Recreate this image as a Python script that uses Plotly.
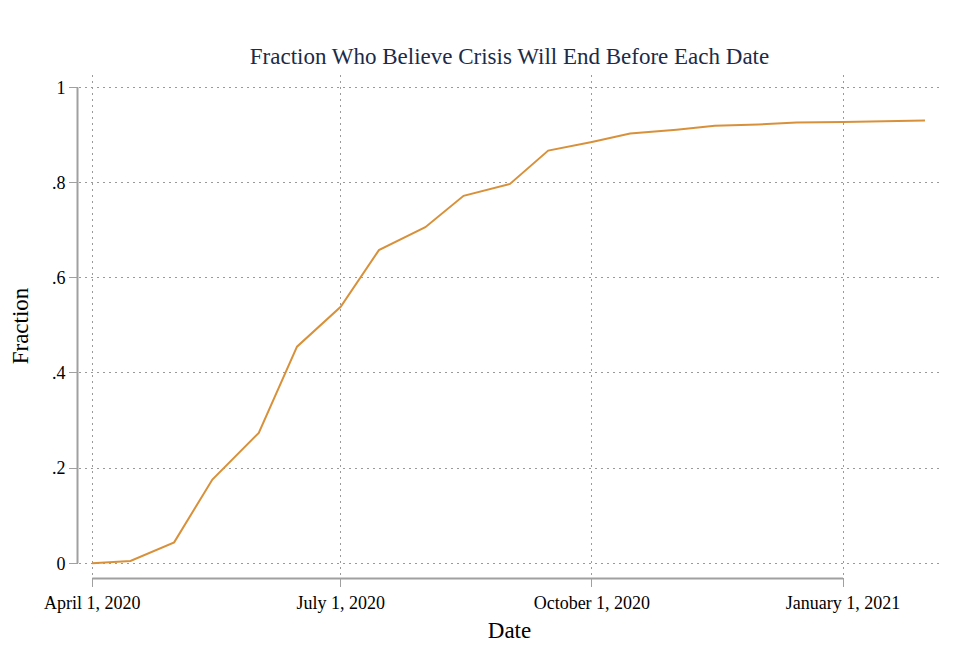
import plotly.graph_objects as go

# Data
dates = ["2020-04-01", "2020-04-15", "2020-05-01", "2020-05-15", "2020-06-01",
         "2020-06-15", "2020-07-01", "2020-07-15", "2020-08-01", "2020-08-15",
         "2020-09-01", "2020-09-15", "2020-10-01", "2020-10-15", "2020-11-01",
         "2020-11-15", "2020-12-01", "2020-12-15", "2021-01-01", "2021-01-15",
         "2021-01-31"]
fraction = [0.000, 0.005, 0.044, 0.176, 0.274, 0.455, 0.539, 0.658, 0.706, 0.772,
            0.797, 0.867, 0.885, 0.903, 0.911, 0.919, 0.922, 0.926, 0.927, 0.928,
            0.930]

x_tick_vals = ["2020-04-01", "2020-07-01", "2020-10-01", "2021-01-01"]
x_tick_text = ["April 1, 2020", "July 1, 2020", "October 1, 2020", "January 1, 2021"]
y_tick_vals = [0, 0.2, 0.4, 0.6, 0.8, 1.0]
y_tick_text = ["0", ".2", ".4", ".6", ".8", "1"]

FONT = "Liberation Serif, Times New Roman, serif"
GRID = "#9a9a9a"
AXIS = "#a0a0a0"

W, H = 953, 643  # page body adds an 8px margin

fig = go.Figure()
fig.add_trace(go.Scatter(
    x=dates, y=fraction, mode="lines",
    line=dict(color="#d8913a", width=2),
    hoverinfo="x+y", showlegend=False,
))

fig.update_layout(
    width=W, height=H,
    margin=dict(l=67, r=21, t=67, b=74),
    paper_bgcolor="white", plot_bgcolor="white",
    font=dict(family=FONT, color="black", size=18),
    title=dict(text="Fraction Who Believe Crisis Will End Before Each Date",
               font=dict(family=FONT, size=23, color="#1c2b48"),
               x=0.5, xanchor="center", xref="paper",
               y=1 - 48 / H, yanchor="middle", yref="container"),
    xaxis=dict(
        type="date",
        range=["2020-03-27 03:40", "2021-02-05 12:00"],
        tickmode="array", tickvals=x_tick_vals, ticktext=x_tick_text,
        ticks="outside", ticklen=9, tickwidth=1, tickcolor=AXIS,
        showgrid=True, gridcolor=GRID, gridwidth=1, griddash="2px,4px",
        showline=False, zeroline=False,
        tickfont=dict(family=FONT, size=18, color="black"),
        title=dict(text="Date", font=dict(family=FONT, size=23, color="black"),
                   standoff=10),
    ),
    yaxis=dict(
        range=[-0.0288, 1.0258],
        tickmode="array", tickvals=y_tick_vals, ticktext=y_tick_text,
        ticks="outside", ticklen=9, tickwidth=1, tickcolor=AXIS,
        showgrid=True, gridcolor=GRID, gridwidth=1, griddash="2px,4px",
        showline=False, zeroline=False,
        tickfont=dict(family=FONT, size=18, color="black"),
        title=dict(text="Fraction", font=dict(family=FONT, size=23, color="black"),
                   standoff=16),
    ),
)

# Stata-style axis lines spanning only the tick range
fig.add_shape(type="line", xref="paper", yref="y",
              x0=-1.5 / 865, x1=-1.5 / 865, y0=y_tick_vals[0], y1=y_tick_vals[-1],
              line=dict(color=AXIS, width=2))
fig.add_shape(type="line", xref="x", yref="paper",
              x0=x_tick_vals[0], x1=x_tick_vals[-1], y0=-1.5 / 502, y1=-1.5 / 502,
              line=dict(color=AXIS, width=2))

fig.write_html("out.html")
